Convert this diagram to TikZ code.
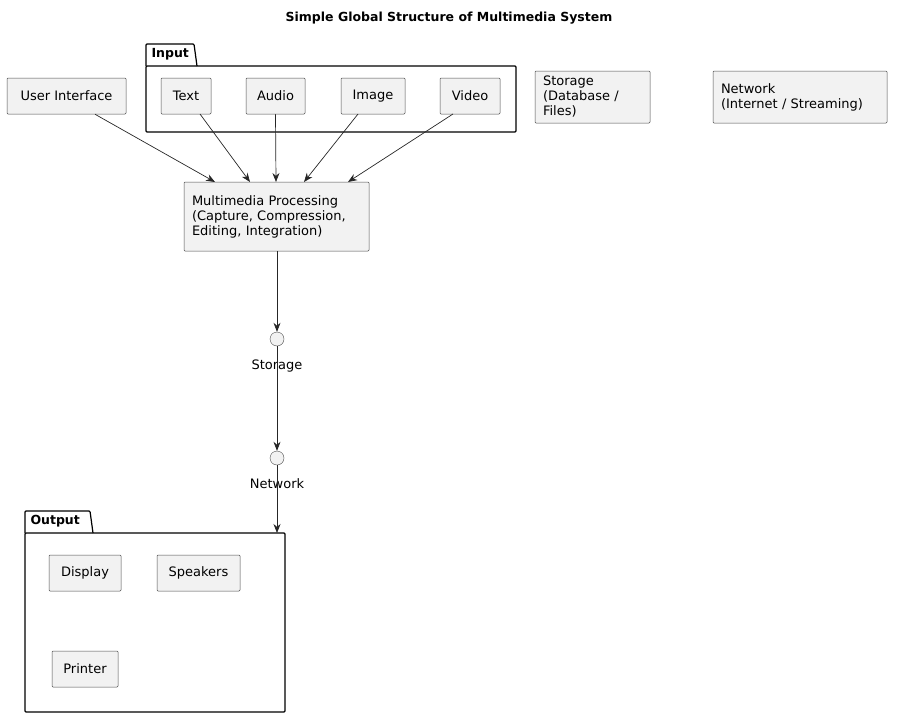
\documentclass[tikz,border=0pt]{standalone}
\usepackage{fontspec}
\setmainfont{DejaVu Sans}
\usetikzlibrary{arrows.meta}
\begin{document}
\begin{tikzpicture}[x=1pt,y=-1pt,
  box/.style={draw=black!70,fill=black!5,line width=0.5pt,rounded corners=1pt,align=left,font=\fontsize{13}{15}\selectfont,inner sep=0pt},
  pkg/.style={draw=black,line width=1.2pt,rounded corners=1pt},
  arr/.style={-{Stealth[length=9pt,width=7pt]},black!85,line width=0.7pt},
  lbl/.style={font=\fontsize{13}{15}\selectfont}]
\useasboundingbox (0,0) rectangle (899,725);
\node[font=\bfseries\fontsize{12.5}{15}\selectfont] (title) at (449,18) {Simple Global Structure of Multimedia System};
% Input package
\draw[pkg] (146,66) -- (146,44) -- (194,44) -- (197,66);
\draw[pkg] (146,66) rectangle (516,132);
\node[font=\bfseries\fontsize{12.5}{15}\selectfont,anchor=west] (inlbl) at (148,54) {Input};
% Output package
\draw[pkg] (25,533) -- (25,511) -- (90,511) -- (93,533);
\draw[pkg] (25,533) rectangle (285,712);
\node[font=\bfseries\fontsize{12.5}{15}\selectfont,anchor=west] (outlbl) at (27,521) {Output};
% boxes
\node[box,minimum width=119pt,minimum height=36pt] (ui) at (66.5,96) {User Interface};
\node[box,minimum width=50pt,minimum height=36pt] (text) at (186,96) {Text};
\node[box,minimum width=59pt,minimum height=36pt] (audio) at (275.5,96) {Audio};
\node[box,minimum width=64pt,minimum height=36pt] (image) at (373,96) {Image};
\node[box,minimum width=60pt,minimum height=36pt] (video) at (470,96) {Video};
\node[box,minimum width=115pt,minimum height=52pt,text width=99pt] (stor) at (592.5,97) {Storage\\(Database / Files)};
\node[box,minimum width=174pt,minimum height=52pt,text width=158pt] (net) at (800,97) {Network\\(Internet / Streaming)};
\node[box,minimum width=185pt,minimum height=69pt,text width=169pt] (mp) at (276.5,216.5) {Multimedia Processing\\(Capture, Compression,\\Editing, Integration)};
\node[box,minimum width=72pt,minimum height=36pt] (disp) at (85,573) {Display};
\node[box,minimum width=83pt,minimum height=36pt] (spk) at (198.5,573) {Speakers};
\node[box,minimum width=66pt,minimum height=36pt] (prn) at (85,669) {Printer};
% interfaces
\node[circle,draw=black!70,fill=black!5,minimum size=14pt,inner sep=0pt] (cs) at (277,339) {};
\node[lbl] (csl) at (277,366) {Storage};
\node[circle,draw=black!70,fill=black!5,minimum size=14pt,inner sep=0pt] (cn) at (277,458) {};
\node[lbl] (cnl) at (277,484) {Network};
\coordinate (outtop) at (277,533);
% arrows
\draw[arr] (ui.south -| 95,0) -- (215,182);
\draw[arr] (200,114) -- (250,182);
\draw[arr] (audio.south) -- (276,182);
\draw[arr] (358,114) -- (304,182);
\draw[arr] (453,114) -- (348,182);
\draw[arr] (277,251) -- (cs.north);
\draw[arr] (cs.south) -- (cn.north);
\draw[arr] (cn.south) -- (outtop);
\end{tikzpicture}
\end{document}
